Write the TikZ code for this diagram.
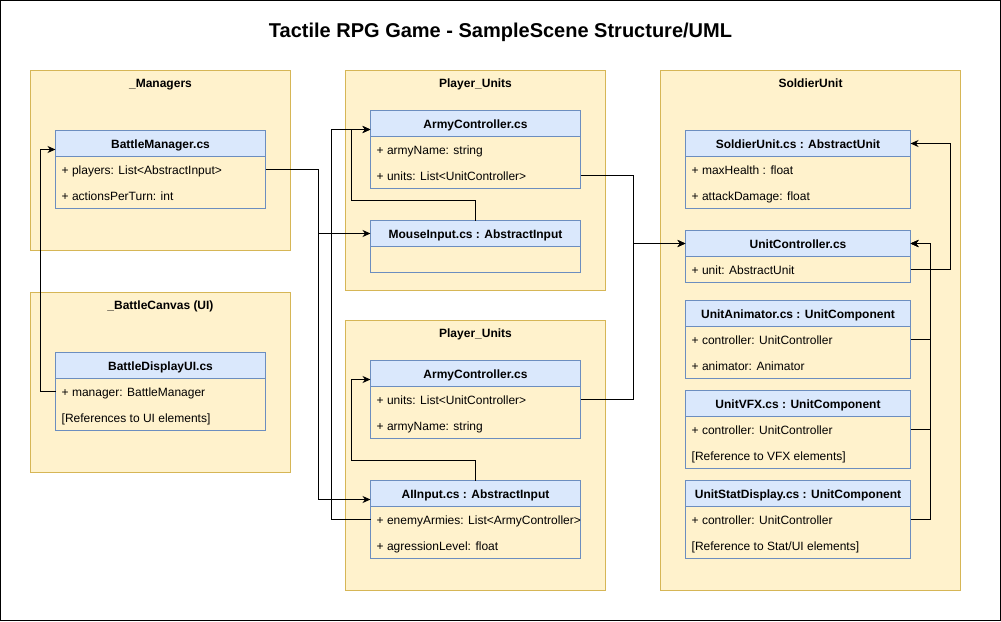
\documentclass[tikz,border=0pt]{standalone}
\usepackage{fontspec}
\setmainfont{Liberation Sans}
\usetikzlibrary{arrows.meta}
\definecolor{grpfill}{HTML}{FFF2CC}
\definecolor{grpline}{HTML}{D6B656}
\definecolor{clsfill}{HTML}{DAE8FC}
\definecolor{clsline}{HTML}{6C8EBF}
\tikzset{
	group/.style={draw=grpline, fill=grpfill, line width=1pt, anchor=north west, inner sep=0pt, outer sep=0pt},
	grouplabel/.style={font=\fontsize{12}{14}\selectfont\bfseries, inner sep=0pt, text height=10pt, text depth=2pt},
	clshead/.style={draw=clsline, fill=clsfill, line width=1pt, anchor=north west, minimum height=26pt, inner sep=0pt, outer sep=0pt, text height=11.5pt, text depth=2pt, font=\fontsize{12}{14}\selectfont\bfseries},
	clsbody/.style={draw=clsline, fill=grpfill, line width=1pt, anchor=north west, inner sep=0pt, outer sep=0pt},
	clsrow/.style={anchor=west, xshift=6pt, inner sep=0pt, text height=11.5pt, text depth=2pt, font=\fontsize{12}{14}\selectfont},
	link/.style={draw=black, line width=1pt, -{Stealth[length=8pt,width=7pt,inset=2.5pt]}}
}

\begin{document}
\begin{tikzpicture}[x=1pt,y=-1pt]
\useasboundingbox (0,0) rectangle (1001,621);
\draw[line width=1pt] (0.5,0.5) rectangle (1000.5,620.5);
\node[font=\fontsize{20}{24}\selectfont\bfseries] (title) at (500.5,32) {Tactile RPG Game - SampleScene Structure/UML};

% groups
\node[group, minimum width=260pt, minimum height=180pt] (mgr) at (30.5,70.5) {};
\node[grouplabel] (mgrl) at ([yshift=-13pt]mgr.north) {\_Managers};
\node[group, minimum width=260pt, minimum height=180pt] (cnv) at (30.5,292.5) {};
\node[grouplabel] (cnvl) at ([yshift=-13pt]cnv.north) {\_BattleCanvas (UI)};
\node[group, minimum width=260pt, minimum height=220pt] (pu1) at (345.5,70.5) {};
\node[grouplabel] (pu1l) at ([yshift=-13pt]pu1.north) {Player\_Units};
\node[group, minimum width=260pt, minimum height=270pt] (pu2) at (345.5,320.5) {};
\node[grouplabel] (pu2l) at ([yshift=-13pt]pu2.north) {Player\_Units};
\node[group, minimum width=300pt, minimum height=520pt] (sol) at (660.5,70.5) {};
\node[grouplabel] (soll) at ([yshift=-13pt]sol.north) {SoldierUnit};

% _Managers / _BattleCanvas
\node[clshead, minimum width=210pt] (bm) at (55.5,130.5) {BattleManager.cs};
\node[clsbody, minimum width=210pt, minimum height=52pt] (bmb) at (bm.south west) {};
\node[clsrow] (bm1) at ([yshift=-13pt]bmb.north west) {+ players: List<AbstractInput>};
\node[clsrow] (bm2) at ([yshift=-39pt]bmb.north west) {+ actionsPerTurn: int};

\node[clshead, minimum width=210pt] (bd) at (55.5,352.5) {BattleDisplayUI.cs};
\node[clsbody, minimum width=210pt, minimum height=52pt] (bdb) at (bd.south west) {};
\node[clsrow] (bd1) at ([yshift=-13pt]bdb.north west) {+ manager: BattleManager};
\node[clsrow] (bd2) at ([yshift=-39pt]bdb.north west) {[References to UI elements]};

% Player_Units
\node[clshead, minimum width=210pt] (ac) at (370.5,110.5) {ArmyController.cs};
\node[clsbody, minimum width=210pt, minimum height=52pt] (acb) at (ac.south west) {};
\node[clsrow] (ac1) at ([yshift=-13pt]acb.north west) {+ armyName: string};
\node[clsrow] (ac2) at ([yshift=-39pt]acb.north west) {+ units: List<UnitController>};

\node[clshead, minimum width=210pt] (mi) at (370.5,220.5) {MouseInput.cs : AbstractInput};
\node[clsbody, minimum width=210pt, minimum height=26pt] (mib) at (mi.south west) {};

\node[clshead, minimum width=210pt] (ak) at (370.5,360.5) {ArmyController.cs};
\node[clsbody, minimum width=210pt, minimum height=52pt] (akb) at (ak.south west) {};
\node[clsrow] (ak1) at ([yshift=-13pt]akb.north west) {+ units: List<UnitController>};
\node[clsrow] (ak2) at ([yshift=-39pt]akb.north west) {+ armyName: string};

\node[clshead, minimum width=210pt] (ai) at (370.5,480.5) {AIInput.cs : AbstractInput};
\node[clsbody, minimum width=210pt, minimum height=52pt] (aib) at (ai.south west) {};
\node[clsrow] (ai1) at ([yshift=-13pt]aib.north west) {+ enemyArmies: List<ArmyController>};
\node[clsrow] (ai2) at ([yshift=-39pt]aib.north west) {+ agressionLevel: float};

% SoldierUnit
\node[clshead, minimum width=225pt] (su) at (685.5,130.5) {SoldierUnit.cs : AbstractUnit};
\node[clsbody, minimum width=225pt, minimum height=52pt] (sub) at (su.south west) {};
\node[clsrow] (su1) at ([yshift=-13pt]sub.north west) {+ maxHealth : float};
\node[clsrow] (su2) at ([yshift=-39pt]sub.north west) {+ attackDamage: float};

\node[clshead, minimum width=225pt] (uc) at (685.5,230.5) {UnitController.cs};
\node[clsbody, minimum width=225pt, minimum height=26pt] (ucb) at (uc.south west) {};
\node[clsrow] (uc1) at ([yshift=-13pt]ucb.north west) {+ unit: AbstractUnit};

\node[clshead, minimum width=225pt] (ua) at (685.5,300.5) {UnitAnimator.cs : UnitComponent};
\node[clsbody, minimum width=225pt, minimum height=52pt] (uab) at (ua.south west) {};
\node[clsrow] (ua1) at ([yshift=-13pt]uab.north west) {+ controller: UnitController};
\node[clsrow] (ua2) at ([yshift=-39pt]uab.north west) {+ animator: Animator};

\node[clshead, minimum width=225pt] (uv) at (685.5,390.5) {UnitVFX.cs : UnitComponent};
\node[clsbody, minimum width=225pt, minimum height=52pt] (uvb) at (uv.south west) {};
\node[clsrow] (uv1) at ([yshift=-13pt]uvb.north west) {+ controller: UnitController};
\node[clsrow] (uv2) at ([yshift=-39pt]uvb.north west) {[Reference to VFX elements]};

\node[clshead, minimum width=225pt] (us) at (685.5,480.5) {UnitStatDisplay.cs : UnitComponent};
\node[clsbody, minimum width=225pt, minimum height=52pt] (usb) at (us.south west) {};
\node[clsrow] (us1) at ([yshift=-13pt]usb.north west) {+ controller: UnitController};
\node[clsrow] (us2) at ([yshift=-39pt]usb.north west) {[Reference to Stat/UI elements]};

% links
\draw[link] (bm1 -| bmb.east) -| ([xshift=-52pt]mi.west) -- (mi.west);
\draw[link] (bm1 -| bmb.east) -| ([xshift=-52pt,yshift=-6pt]ai.west) -- ([yshift=-6pt]ai.west);
\draw[link] (ai1 -| aib.west) -| ([xshift=-39pt,yshift=-6pt]ac.west) -- ([yshift=-6pt]ac.west);
\draw[link] (mi.north) -- ++(0,-20) -| ([xshift=-19pt,yshift=-6pt]ac.west) -- ([yshift=-6pt]ac.west);
\draw[link] (ai.north) -- ++(0,-20) -| ([xshift=-19pt,yshift=-6pt]ak.west) -- ([yshift=-6pt]ak.west);
\draw[link] (bd1 -| bdb.west) -| ([xshift=-15pt,yshift=-6pt]bm.west) -- ([yshift=-6pt]bm.west);
\draw[link] (ac2 -| acb.east) -| ([xshift=-52pt]uc.west) -- (uc.west);
\draw[link] (ak1 -| akb.east) -| ([xshift=-52pt]uc.west) -- (uc.west);
\draw[link] (uc1 -| ucb.east) -| ([xshift=40pt]su.east) -- (su.east);
\foreach \c in {ua,uv,us}{
	\draw[link] (\c1 -| \c b.east) -| ([xshift=20pt]uc.east) -- (uc.east);
}
\end{tikzpicture}
\end{document}
